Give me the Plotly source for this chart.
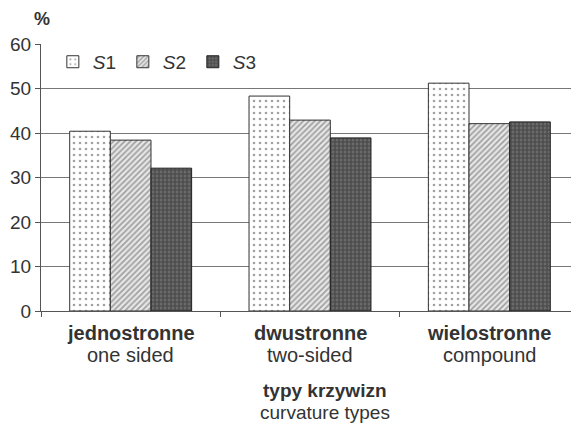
import plotly.graph_objects as go

categories = ["jednostronne", "dwustronne", "wielostronne"]
categories_en = ["one sided", "two-sided", "compound"]
s1 = [40.4, 48.3, 51.2]
s2 = [38.4, 42.9, 42.1]
s3 = [32.1, 38.9, 42.5]
y_ticks = [0, 10, 20, 30, 40, 50, 60]
x_title = "typy krzywizn"
x_title_en = "curvature types"

FONT = "Liberation Sans, Arial, sans-serif"
TXT = "#333"

fig = go.Figure()
fig.add_trace(go.Bar(
    name="<i>S</i>1", x=categories, y=s1,
    marker=dict(color="white", line=dict(color="#333", width=1),
                pattern=dict(shape=".", fgcolor="#444", bgcolor="white", size=6, solidity=0.15)),
))
fig.add_trace(go.Bar(
    name="<i>S</i>2", x=categories, y=s2,
    marker=dict(color="white", line=dict(color="#333", width=1),
                pattern=dict(shape="/", fgcolor="#555", bgcolor="#e6e6e6", size=4, solidity=0.4)),
))
fig.add_trace(go.Bar(
    name="<i>S</i>3", x=categories, y=s3,
    marker=dict(color="#555", line=dict(color="#222", width=1),
                pattern=dict(shape="+", fgcolor="#222", bgcolor="#6a6a6a", size=4, solidity=0.5)),
))

annotations = [dict(text="<b>%</b>", xref="paper", yref="paper", x=0.002, y=1.094,
                    xanchor="center", yanchor="middle", showarrow=False,
                    font=dict(size=18, color=TXT, family=FONT))]
for c, e in zip(categories, categories_en):
    annotations.append(dict(text=f"<b>{c}</b>", x=c, xref="x", yref="paper", y=0, yshift=-21.5,
                            xanchor="center", yanchor="middle", showarrow=False, borderpad=0,
                            font=dict(size=20, color=TXT, family=FONT)))
    annotations.append(dict(text=e, x=c, xref="x", yref="paper", y=0, yshift=-43.5,
                            xanchor="center", yanchor="middle", showarrow=False, borderpad=0,
                            font=dict(size=20, color=TXT, family=FONT)))
annotations.append(dict(text=f"<b>{x_title}</b>", x=0.528, xref="paper", yref="paper", y=0, yshift=-79.5,
                        xanchor="center", yanchor="middle", showarrow=False, borderpad=0,
                        font=dict(size=19, color=TXT, family=FONT)))
annotations.append(dict(text=x_title_en, x=0.528, xref="paper", yref="paper", y=0, yshift=-101.5,
                        xanchor="center", yanchor="middle", showarrow=False, borderpad=0,
                        font=dict(size=19, color=TXT, family=FONT)))

# the page body has an 8px margin, so the figure is drawn 8px in from the top-left
fig.update_layout(
    width=571, height=417,
    margin=dict(l=33, r=0, t=36, b=114, autoexpand=False),
    paper_bgcolor="white", plot_bgcolor="white",
    barmode="group", bargap=0.32, bargroupgap=0,
    font=dict(family=FONT, size=20, color=TXT),
    showlegend=True,
    legend=dict(orientation="h", x=0.022, y=0.933, xanchor="left", yanchor="middle",
                bgcolor="rgba(0,0,0,0)", font=dict(size=19, color=TXT),
                itemwidth=30, entrywidth=25, entrywidthmode="pixels", traceorder="normal"),
    annotations=annotations,
)

fig.update_xaxes(
    type="category", range=[-0.5, 2.5], automargin=False,
    showline=True, linecolor="#555", linewidth=1,
    ticks="outside", tickson="boundaries", ticklen=5, tickcolor="#555",
    showgrid=False, showticklabels=False,
)
fig.update_yaxes(
    range=[0, 60], tickvals=y_ticks, automargin=False,
    showline=True, linecolor="#555", linewidth=1,
    ticks="outside", ticklen=5, tickcolor="#555",
    showgrid=True, gridcolor="#777", gridwidth=1,
    tickfont=dict(size=19, color=TXT, family=FONT),
    ticklabelstandoff=0,
    zeroline=False,
)

fig.write_html("out.html")
